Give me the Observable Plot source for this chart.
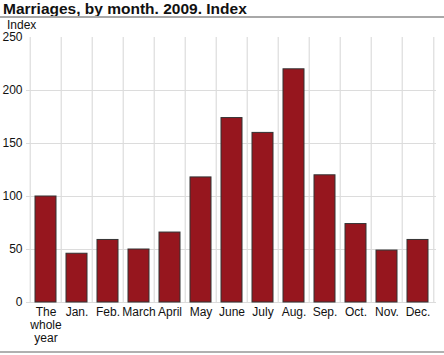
<!DOCTYPE html>
<html>
<head>
<meta charset="utf-8">
<script src="https://cdn.jsdelivr.net/npm/d3@7"></script>
<script src="https://cdn.jsdelivr.net/npm/@observablehq/plot@0.6"></script>
<style>
  html, body { margin: 0; padding: 0; background: #fff; }
  body { width: 444px; height: 355px; position: relative; overflow: hidden; font-family: Arial, "Liberation Sans", sans-serif; }
  #title { position: absolute; left: 3px; top: 0px; font-size: 15.5px; font-weight: bold; color: #111; line-height: 17px; }
  #rule { position: absolute; left: 0; top: 16px; width: 444px; height: 0; border-top: 2px solid #a8a8a8; }
  #ylab { position: absolute; left: 7px; top: 19px; font-size: 12px; line-height: 12px; color: #111; }
  #chart { position: absolute; left: 0; top: 20px; }
  #bottom { position: absolute; left: 0; top: 351px; width: 444px; border-top: 2px solid #b0b0b0; }
</style>
</head>
<body>
<div id="title">Marriages, by month. 2009. Index</div>
<div id="rule"></div>
<div id="chart"></div>
<div id="ylab">Index</div>
<div id="bottom"></div>
<script>
const categories = ["The\nwhole\nyear", "Jan.", "Feb.", "March", "April", "May", "June", "July", "Aug.", "Sep.", "Oct.", "Nov.", "Dec."];
const values = [100, 46, 59, 50, 66, 118, 174, 160, 220, 120, 74, 49, 59];
const yTicks = [0, 50, 100, 150, 200, 250];
const gridY = [0, 50, 100, 150, 200];

const data = categories.map((c, i) => ({category: c, value: values[i]}));

const W = 444, H = 332, mL = 26, mR = 8, mT = 17, mB = 50;
const step = (W - mL - mR) / categories.length;

const chart = Plot.plot({
  width: W,
  height: H,
  marginLeft: mL,
  marginRight: mR,
  marginTop: mT,
  marginBottom: mB,
  style: {fontFamily: "Arial, 'Liberation Sans', sans-serif", fontSize: "12px", color: "#111", background: "transparent"},
  x: {domain: categories, padding: 0, label: null},
  y: {domain: [0, 250], label: null},
  marks: [
    Plot.ruleY(gridY, {stroke: "#dcdcdc", strokeWidth: 1.2}),
    Plot.ruleX(categories, {x: d => d, y1: 0, y2: 250, dx: -step / 2, stroke: "#dcdcdc", strokeWidth: 1.2}),
    Plot.ruleX([categories[categories.length - 1]], {x: d => d, y1: 0, y2: 250, dx: step / 2, stroke: "#dcdcdc", strokeWidth: 1.2}),
    Plot.barY(data, {x: "category", y: "value", fill: "#96161e", stroke: "#333", strokeWidth: 1, insetLeft: 5, insetRight: 5}),
    Plot.axisX({tickSize: 0, tickPadding: 4, lineHeight: 1.08, label: null}),
    Plot.axisY({ticks: yTicks, tickSize: 0, tickPadding: 4, label: null})
  ]
});
document.getElementById("chart").appendChild(chart);
</script>
</body>
</html>
